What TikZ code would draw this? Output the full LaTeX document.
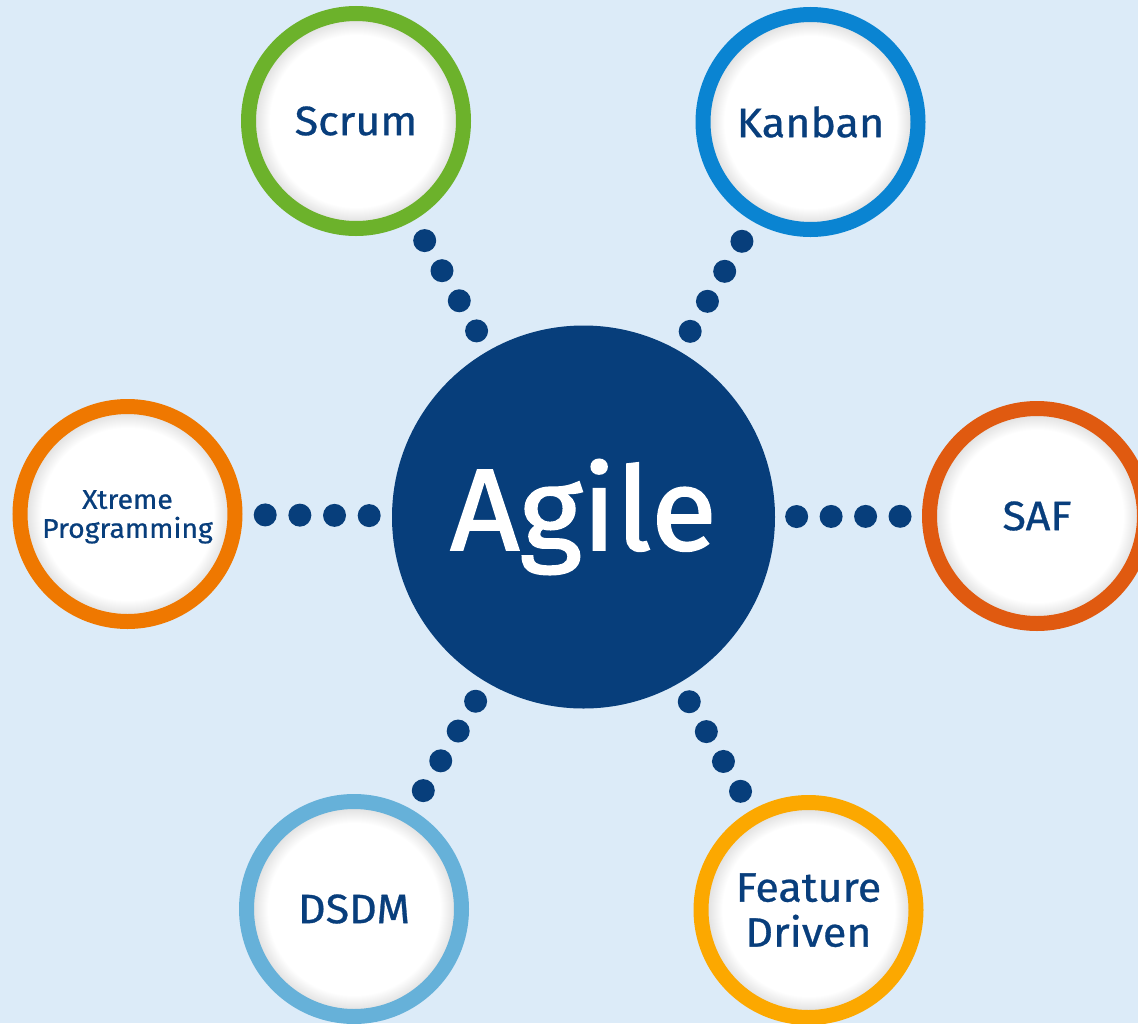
\documentclass[tikz,border=0pt]{standalone}
\usepackage{fontspec}
\setmainfont{Fira Sans}[FakeBold=0.7, FakeStretch=1.05]
\newfontfamily\agilefont{Fira Sans}[FakeBold=1.6, FakeStretch=1.04]
\definecolor{bgblue}{HTML}{DCEBF8}
\definecolor{navy}{HTML}{073E7B}
\definecolor{txt}{HTML}{083E7C}
\definecolor{cgreen}{HTML}{6CB22B}
\definecolor{cblue}{HTML}{0A84D2}
\definecolor{corange}{HTML}{EF7800}
\definecolor{cred}{HTML}{E05A10}
\definecolor{csky}{HTML}{66B1D9}
\definecolor{camber}{HTML}{FCA800}
\pgfdeclareradialshading{innershadow}{\pgfpoint{0bp}{0bp}}{color(0bp)=(white); color(20bp)=(white); color(23.3bp)=(black!11); color(50bp)=(black!11)}
\begin{document}
\begin{tikzpicture}[x=1pt,y=-1pt,
  ring/.style={circle, draw=#1, line width=15pt, minimum size=215pt, inner sep=0pt,
    shade, shading=innershadow, text=txt, align=center,
    font=\fontsize{41}{45}\selectfont},
  hubdot/.style={circle, fill=navy, minimum size=23pt, inner sep=0pt}]
\useasboundingbox (0,0) rectangle (1138,1023);
\fill[bgblue] (0,0) rectangle (1138,1023);
\clip (0,0) rectangle (1138,1023);
\node[circle, fill=navy, minimum size=383pt, inner sep=0pt, text=white,
  font=\agilefont\fontsize{116}{120}\selectfont] (agile) at (583.5,517) {Agile};
\node[ring=cgreen] (scrum) at (356,121) {Scrum};
\node[ring=cblue] (kanban) at (810.5,122) {Kanban};
\node[ring=corange, font=\fontsize{27}{29}\selectfont, text depth=-8pt] (xp) at (127.5,514) {Xtreme\\Programming};
\node[ring=cred] (saf) at (1037,516) {SAF};
\node[ring=csky] (dsdm) at (354,909) {DSDM};
\node[ring=camber, text depth=-8pt] (fdd) at (808.5,910) {Feature\\Driven};
\foreach \s in {scrum,kanban,xp,saf,dsdm,fdd}{
  \foreach \p [count=\i] in {0.47,0.546,0.622,0.698}{
    \path (agile.center) -- (\s.center) node[hubdot, pos=\p] (dot-\s-\i) {};
  }
}
\end{tikzpicture}
\end{document}
